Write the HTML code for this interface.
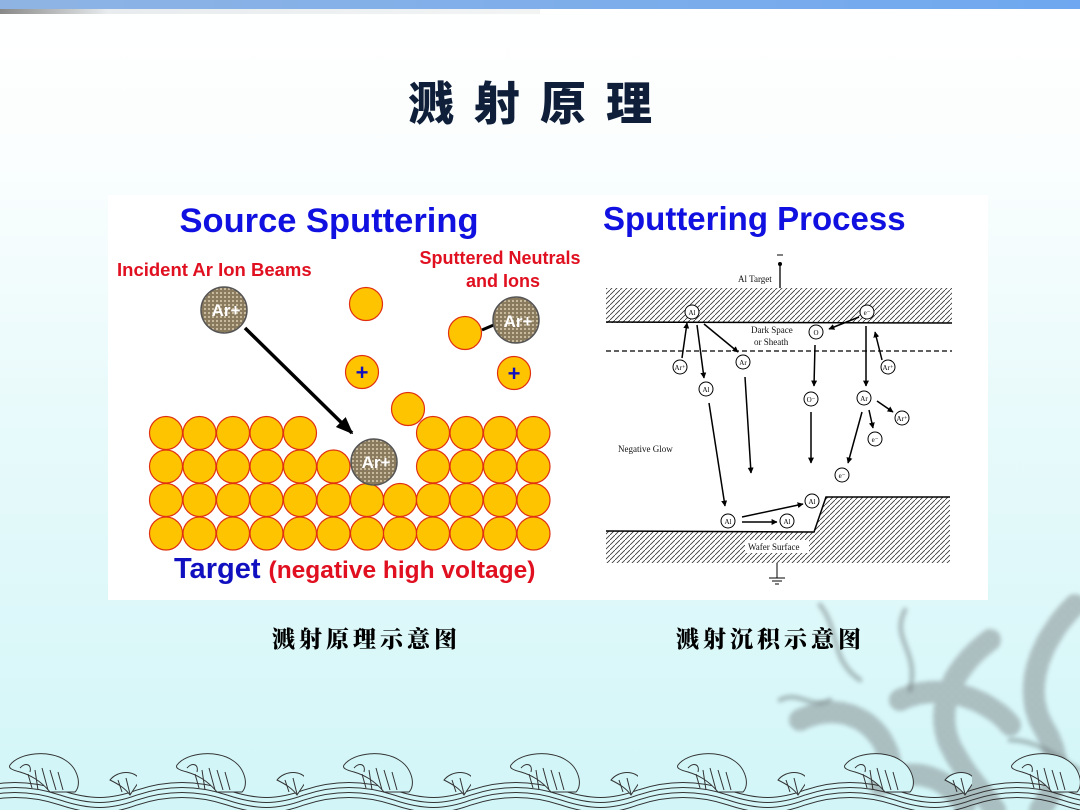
<!DOCTYPE html>
<html><head><meta charset="utf-8"><style>
html,body{margin:0;padding:0;width:1080px;height:810px;overflow:hidden}
body{background:linear-gradient(#ffffff 0px,#fbfefe 150px,#e9fafb 400px,#d2f6f8 810px);font-family:"Liberation Sans",sans-serif;position:relative}
</style></head><body>
<svg width="1080" height="810" viewBox="0 0 1080 810" xmlns="http://www.w3.org/2000/svg" style="position:absolute;left:0;top:0">
<defs>
<linearGradient id="tb" x1="0" x2="1"><stop offset="0" stop-color="#8fb4e4"/><stop offset="1" stop-color="#6fa8f0"/></linearGradient>
<linearGradient id="tb2" x1="0" x2="1"><stop offset="0" stop-color="#888"/><stop offset="0.2" stop-color="#e8ecee"/><stop offset="1" stop-color="#f2f4f4"/></linearGradient>
<pattern id="hatch" width="5" height="5" patternUnits="userSpaceOnUse"><path d="M-1,6 L6,-1" stroke="#333" stroke-width="0.8"/></pattern>
<pattern id="sand" width="4" height="4" patternUnits="userSpaceOnUse"><rect width="4" height="4" fill="#8a7a5e"/><rect width="2" height="2" fill="#c7b99c"/></pattern>
<pattern id="scale" width="8" height="8" patternUnits="userSpaceOnUse"><rect width="8" height="8" fill="#9aa6a8"/><circle cx="4" cy="4" r="3" fill="none" stroke="#6d7778" stroke-width="1"/></pattern>
<marker id="ah" viewBox="0 0 10 10" refX="9" refY="5" markerWidth="5" markerHeight="5" orient="auto"><path d="M0,1 L10,5 L0,9 z" fill="#000"/></marker>
<marker id="ah2" viewBox="0 0 10 10" refX="9" refY="5" markerWidth="4" markerHeight="4" orient="auto"><path d="M0,0 L10,5 L0,10 z" fill="#000"/></marker>
<filter id="bl"><feGaussianBlur stdDeviation="2"/></filter>
<pattern id="wave" x="-30" y="750" width="167" height="60" patternUnits="userSpaceOnUse">
<g fill="none" stroke="#333" stroke-width="1">
<path d="M0,40 C30,30 60,30 90,40 C120,50 140,50 167,40"/>
<path d="M0,45 C30,35 60,35 90,45 C120,55 140,55 167,45"/>
<path d="M0,50 C30,40 60,40 90,50 C120,60 140,60 167,50"/>
<path d="M0,55 C30,45 60,45 90,55 C120,65 140,65 167,55"/>
<path d="M40,15 C50,2 80,0 95,10 C108,18 112,35 105,42 L80,42 C70,30 60,25 50,22 C42,20 38,18 40,15 z" fill="#d2f6f8"/>
<path d="M50,18 C55,12 62,14 60,22 M65,20 L68,40 M72,18 L78,40 M80,20 L86,40 M88,22 L93,40 M58,24 L62,38"/>
<path d="M140,30 C148,20 165,20 170,30 L160,45 C155,38 148,34 140,30 z" fill="#d2f6f8"/>
<path d="M148,30 L152,42 M156,28 L160,44"/>
</g></pattern>
</defs>
<rect x="0" y="0" width="1080" height="9" fill="url(#tb)"/>
<rect x="0" y="9" width="540" height="5" fill="url(#tb2)"/>
<text x="540" y="120" text-anchor="middle" font-family="'Noto Sans CJK SC','Liberation Sans',sans-serif" font-weight="900" font-size="46" letter-spacing="20" fill="#0f1f3a">溅射原理</text>

<!-- dragon -->
<g filter="url(#bl)" opacity="0.6" fill="none" stroke="url(#scale)" stroke-width="22" stroke-linecap="round">
<path d="M1075,605 C1040,640 1020,690 1045,730 C1065,765 1055,790 1040,810"/>
<path d="M990,640 C950,670 935,710 950,745 C965,775 985,795 995,810"/>
<path d="M800,720 C840,700 880,720 890,760"/>
<path d="M900,700 C940,680 990,700 1010,725"/>
<path d="M880,785 C910,765 945,775 965,805"/>
</g>
<g filter="url(#bl)" opacity="0.45" fill="none" stroke="#6d7778" stroke-width="5" stroke-linecap="round">
<path d="M820,605 C840,630 830,660 860,680"/><path d="M905,610 C890,640 920,650 910,690"/>
<path d="M780,700 C800,690 810,710 830,700"/><path d="M1010,740 C1040,740 1060,760 1080,770"/>
</g>

<rect x="0" y="750" width="1080" height="60" fill="url(#wave)"/>

<!-- white panel -->
<rect x="108" y="195" width="880" height="405" fill="#fff"/>

<!-- LEFT -->
<text x="329" y="232" text-anchor="middle" font-weight="bold" font-size="34.5" fill="#1010e0">Source Sputtering</text>
<text x="117" y="276" font-weight="bold" font-size="18.5" fill="#e01020">Incident Ar Ion Beams</text>
<text x="500" y="264" text-anchor="middle" font-weight="bold" font-size="18" fill="#e01020">Sputtered Neutrals</text>
<text x="503" y="287" text-anchor="middle" font-weight="bold" font-size="18" fill="#e01020">and Ions</text>
<g fill="#ffc400" stroke="#e03010" stroke-width="1.2">
<circle cx="166" cy="433" r="16.5"/><circle cx="199.5" cy="433" r="16.5"/><circle cx="233" cy="433" r="16.5"/><circle cx="266.5" cy="433" r="16.5"/><circle cx="300" cy="433" r="16.5"/>
<circle cx="433" cy="433" r="16.5"/><circle cx="466.5" cy="433" r="16.5"/><circle cx="500" cy="433" r="16.5"/><circle cx="533.5" cy="433" r="16.5"/>
<circle cx="166" cy="466.5" r="16.5"/><circle cx="199.5" cy="466.5" r="16.5"/><circle cx="233" cy="466.5" r="16.5"/><circle cx="266.5" cy="466.5" r="16.5"/><circle cx="300" cy="466.5" r="16.5"/><circle cx="333.5" cy="466.5" r="16.5"/>
<circle cx="433" cy="466.5" r="16.5"/><circle cx="466.5" cy="466.5" r="16.5"/><circle cx="500" cy="466.5" r="16.5"/><circle cx="533.5" cy="466.5" r="16.5"/>
<circle cx="166" cy="500" r="16.5"/><circle cx="199.5" cy="500" r="16.5"/><circle cx="233" cy="500" r="16.5"/><circle cx="266.5" cy="500" r="16.5"/><circle cx="300" cy="500" r="16.5"/><circle cx="333.5" cy="500" r="16.5"/><circle cx="367" cy="500" r="16.5"/><circle cx="400" cy="500" r="16.5"/><circle cx="433" cy="500" r="16.5"/><circle cx="466.5" cy="500" r="16.5"/><circle cx="500" cy="500" r="16.5"/><circle cx="533.5" cy="500" r="16.5"/>
<circle cx="166" cy="533.5" r="16.5"/><circle cx="199.5" cy="533.5" r="16.5"/><circle cx="233" cy="533.5" r="16.5"/><circle cx="266.5" cy="533.5" r="16.5"/><circle cx="300" cy="533.5" r="16.5"/><circle cx="333.5" cy="533.5" r="16.5"/><circle cx="367" cy="533.5" r="16.5"/><circle cx="400" cy="533.5" r="16.5"/><circle cx="433" cy="533.5" r="16.5"/><circle cx="466.5" cy="533.5" r="16.5"/><circle cx="500" cy="533.5" r="16.5"/><circle cx="533.5" cy="533.5" r="16.5"/>
<circle cx="408" cy="409" r="16.5"/>
<circle cx="366" cy="304" r="16.5"/>
<circle cx="362" cy="372" r="16.5"/>
<circle cx="465" cy="333" r="16.5"/>
<circle cx="514" cy="373" r="16.5"/>
</g>
<text x="362" y="380" text-anchor="middle" font-weight="bold" font-size="22" fill="#1010c0">+</text>
<text x="514" y="381" text-anchor="middle" font-weight="bold" font-size="22" fill="#1010c0">+</text>
<line x1="482" y1="330" x2="496" y2="324" stroke="#000" stroke-width="3"/>
<line x1="245" y1="328" x2="352" y2="433" stroke="#000" stroke-width="3.5" marker-end="url(#ah)"/>
<g stroke="#555" stroke-width="1.5" fill="url(#sand)">
<circle cx="224" cy="310" r="23"/><circle cx="516" cy="320" r="23"/><circle cx="374" cy="462" r="23"/>
</g>
<g font-weight="bold" font-size="17" fill="#fff" text-anchor="middle"><text x="226" y="316">Ar+</text><text x="518" y="327">Ar+</text><text x="376" y="468">Ar+</text></g>
<text x="174" y="578" font-weight="bold" font-size="29" fill="#1010c0">Target <tspan font-size="24.5" fill="#e01020">(negative high voltage)</tspan></text>

<!-- RIGHT -->
<text x="603" y="230" font-weight="bold" font-size="33" fill="#1010e0">Sputtering Process</text>
<g font-family="'Liberation Serif',serif" font-size="9" fill="#111">
<text x="738" y="282">Al Target</text>
<text x="751" y="333">Dark Space</text><text x="754" y="345">or Sheath</text>
<text x="618" y="452">Negative Glow</text>
</g>
<line x1="780" y1="264" x2="780" y2="288" stroke="#000" stroke-width="1.3"/>
<circle cx="780" cy="264" r="2" fill="#000"/>
<line x1="777" y1="255" x2="783" y2="255" stroke="#000"/>
<rect x="606" y="288" width="346" height="35" fill="url(#hatch)"/>
<line x1="606" y1="322" x2="952" y2="323" stroke="#000" stroke-width="1.5"/>
<line x1="606" y1="351" x2="952" y2="351" stroke="#000" stroke-width="1.3" stroke-dasharray="5,3"/>
<path d="M606,531 L814,532 L826,497 L950,497 L950,563 L606,563 z" fill="url(#hatch)"/>
<path d="M606,531 L814,532 L826,497 L950,497" fill="none" stroke="#000" stroke-width="1.5"/>
<rect x="745" y="540" width="64" height="13" fill="#fff"/>
<text x="748" y="550" font-family="'Liberation Serif',serif" font-size="9" fill="#111">Wafer Surface</text>
<line x1="777" y1="563" x2="777" y2="578" stroke="#000"/>
<line x1="769" y1="578" x2="785" y2="578" stroke="#000"/><line x1="772" y1="581" x2="782" y2="581" stroke="#000"/><line x1="775" y1="584" x2="779" y2="584" stroke="#000"/>
<g stroke="#000" stroke-width="1.5" marker-end="url(#ah2)">
<line x1="682" y1="358" x2="687" y2="323"/>
<line x1="697" y1="325" x2="704" y2="378"/>
<line x1="704" y1="324" x2="738" y2="352"/>
<line x1="859" y1="317" x2="829" y2="329"/>
<line x1="815" y1="345" x2="814" y2="386"/>
<line x1="866" y1="326" x2="866" y2="386"/>
<line x1="882" y1="360" x2="875" y2="332"/>
<line x1="709" y1="403" x2="725" y2="506"/>
<line x1="745" y1="377" x2="751" y2="473"/>
<line x1="811" y1="412" x2="811" y2="463"/>
<line x1="862" y1="412" x2="848" y2="463"/>
<line x1="869" y1="410" x2="873" y2="428"/>
<line x1="877" y1="401" x2="893" y2="412"/>
<line x1="742" y1="517" x2="803" y2="504"/>
<line x1="742" y1="522" x2="777" y2="522"/>
</g>
<g fill="#fff" stroke="#000" stroke-width="1">
<circle cx="692" cy="312" r="7"/><circle cx="867" cy="312" r="7"/><circle cx="816" cy="332" r="7"/>
<circle cx="680" cy="367" r="7"/><circle cx="743" cy="362" r="7"/><circle cx="706" cy="389" r="7"/>
<circle cx="811" cy="399" r="7"/><circle cx="864" cy="398" r="7"/><circle cx="888" cy="367" r="7"/>
<circle cx="902" cy="418" r="7"/><circle cx="875" cy="439" r="7"/><circle cx="842" cy="475" r="7"/>
<circle cx="728" cy="521" r="7"/><circle cx="787" cy="521" r="7"/><circle cx="812" cy="501" r="7"/>
</g>
<g font-family="'Liberation Serif',serif" font-size="7" fill="#000" text-anchor="middle">
<text x="692" y="315">Al</text><text x="867" y="315">e⁻</text><text x="816" y="335">O</text>
<text x="680" y="370">Ar⁺</text><text x="743" y="365">Ar</text><text x="706" y="392">Al</text>
<text x="811" y="402">O⁻</text><text x="864" y="401">Ar</text><text x="888" y="370">Ar⁺</text>
<text x="902" y="421">Ar⁺</text><text x="875" y="442">e⁻</text><text x="842" y="478">e⁻</text>
<text x="728" y="524">Al</text><text x="787" y="524">Al</text><text x="812" y="504">Al</text>
</g>

<!-- captions -->
<g font-family="'Noto Serif CJK SC','Liberation Serif',serif" font-weight="900" font-size="23" letter-spacing="4" fill="#000">
<text x="272" y="647">溅射原理示意图</text>
<text x="676" y="647">溅射沉积示意图</text>
</g>
</svg>
</body></html>
